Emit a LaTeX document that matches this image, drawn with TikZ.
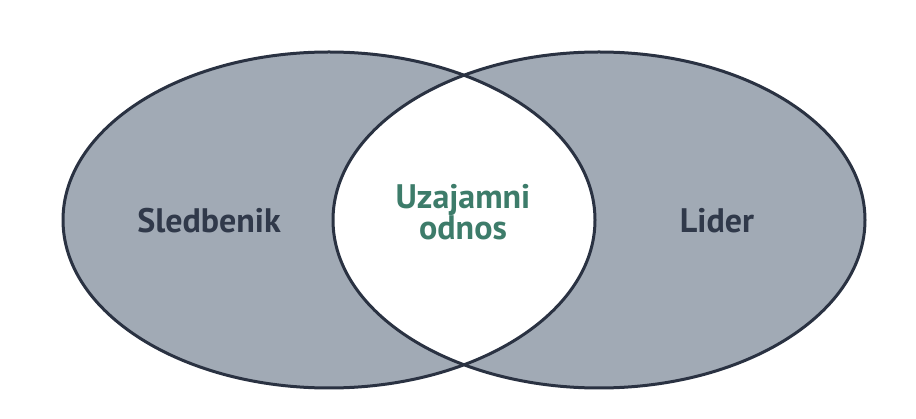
\documentclass[tikz,border=0pt]{standalone}
\usepackage{fontspec}
\setsansfont{PT Sans}
\definecolor{setFill}{HTML}{A1AAB5}
\definecolor{setLine}{HTML}{2A3242}
\definecolor{setText}{HTML}{30394A}
\definecolor{sharedText}{HTML}{3D7C6A}
\begin{document}
\begin{tikzpicture}
[x=1pt,y=-1pt,
  setDecorate/.style={draw=setLine,line width=3pt},%
  labelDecorate/.style={font=\sffamily\bfseries\fontsize{34}{27}\selectfont,inner sep=0pt,align=center,anchor=base}]
\useasboundingbox[fill=white] (0,0) rectangle (916,419);
%% sets
\foreach \x in {329, 599}
{
  \fill[setFill] (\x,220) ellipse [x radius=266, y radius=168];
}
%% shared part
\begin{scope}
  \clip (329,220) ellipse [x radius=266, y radius=168];
  \fill[white] (599,220) ellipse [x radius=266, y radius=168];
\end{scope}
\foreach \x in {329, 599}
{
  \draw[setDecorate] (\x,220) ellipse [x radius=266, y radius=168];
}
%% labels
\foreach \nodename/\x/\y/\textcolor/\caption in {
  follower/209/233/setText/Sledbenik, leader/717/233/setText/Lider,
  shared/463/240/sharedText/{Uzajamni\\odnos}}
{
  \node (\nodename) at (\x,\y) [labelDecorate,text=\textcolor] {\caption};
}
\end{tikzpicture}
\end{document}
